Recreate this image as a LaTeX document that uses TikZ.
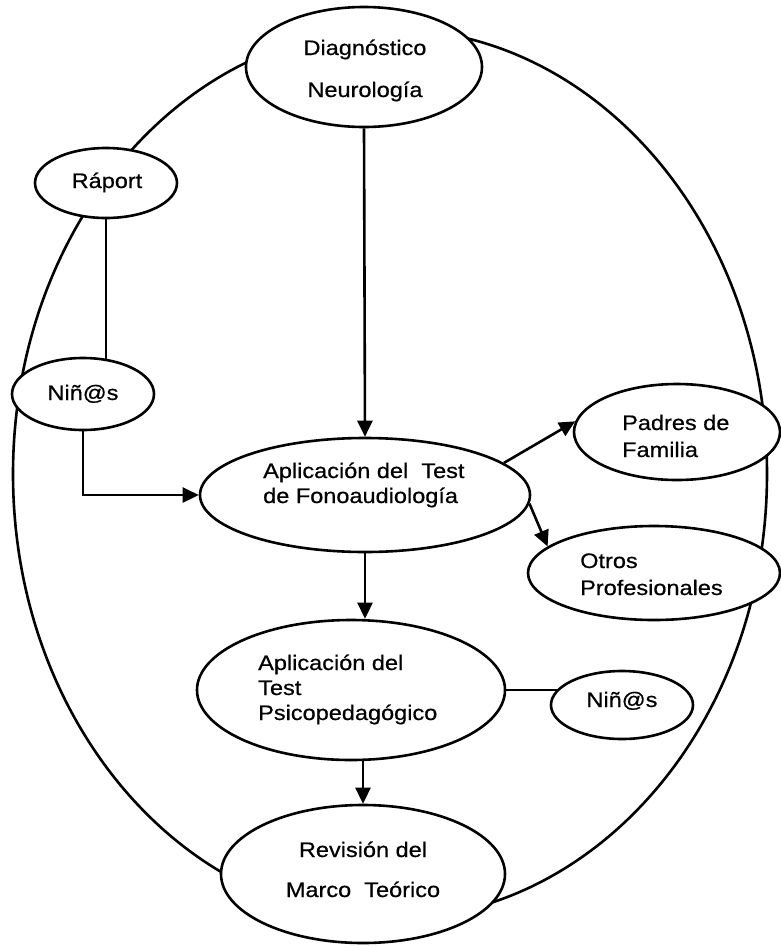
\documentclass[tikz,border=0pt]{standalone}
\usepackage{fontspec}
\setmainfont{Liberation Sans}[FakeStretch=1.12,FakeBold=0.6]
\usetikzlibrary{shapes.geometric,arrows.meta,backgrounds}
\begin{document}
\begin{tikzpicture}[x=1pt,y=-1pt,
  bub/.style={ellipse,draw,line width=2.6pt,fill=white,inner sep=0pt},
  lbl/.style={inner sep=0pt,font=\fontsize{21}{25}\selectfont},
  link/.style={line width=2.6pt},
  flow/.style={line width=2.6pt,-{Triangle[length=16pt,width=15pt]}}]
\useasboundingbox (0,0) rectangle (780,946);

% ellipses
\node[bub,minimum width=236pt,minimum height=120pt] (diag) at (364,67) {};
\node[bub,minimum width=142pt,minimum height=70pt] (raport) at (106,183) {};
\node[bub,minimum width=142pt,minimum height=72pt] (ninosA) at (83,394) {};
\node[bub,minimum width=330pt,minimum height=114pt] (fono) at (365,495) {};
\node[bub,minimum width=206pt,minimum height=96pt] (padres) at (677,432) {};
\node[bub,minimum width=252pt,minimum height=94pt] (otros) at (654,573) {};
\node[bub,minimum width=308pt,minimum height=140pt] (psico) at (351,690) {};
\node[bub,minimum width=142pt,minimum height=68pt] (ninosB) at (622,705) {};
\node[bub,minimum width=284pt,minimum height=138pt] (revision) at (363,874) {};

% texts
\node[lbl,anchor=base] (diagA) at (365,55) {Diagnóstico};
\node[lbl,anchor=base] (diagB) at (365,97) {Neurología};
\node[lbl,anchor=base] (raportT) at (107,188) {Ráport};
\node[lbl,anchor=base] (ninosAT) at (83,400) {Niñ@s};
\node[lbl,anchor=base west] (fonoA) at (263,478) {Aplicación del\ \ Test};
\node[lbl,anchor=base west] (fonoB) at (263,503) {de Fonoaudiología};
\node[lbl,anchor=base west] (padresA) at (622,430) {Padres de};
\node[lbl,anchor=base west] (padresB) at (622,457) {Familia};
\node[lbl,anchor=base west] (otrosA) at (580,568) {Otros};
\node[lbl,anchor=base west] (otrosB) at (580,595) {Profesionales};
\node[lbl,anchor=base west] (psicoA) at (258,670) {Aplicación del};
\node[lbl,anchor=base west] (psicoB) at (258,695) {Test};
\node[lbl,anchor=base west] (psicoC) at (258,720) {Psicopedagógico};
\node[lbl,anchor=base] (ninosBT) at (622,707) {Niñ@s};
\node[lbl,anchor=base] (revA) at (363,857) {Revisión del};
\node[lbl,anchor=base] (revB) at (363,897) {Marco\ \ Teórico};

% outer cycle and plain links, hidden behind the bubbles
\begin{pgfonlayer}{background}
  \draw[link] (390,474) ellipse [x radius=377pt, y radius=445pt];
  \draw[link] (raport.south) -- (raport.south |- ninosA.center);
  \draw[link] (psico.east) -- (psico.east -| ninosB.center);
\end{pgfonlayer}

% arrows
\draw[flow] (diag.south) -- (fono.north);
\draw[flow] (ninosA.south) |- (fono.west);
\draw[flow] (fono.13) -- (padres.174);
\draw[flow] (fono.-3) -- (otros.166);
\draw[flow] (fono.south) -- (fono.south |- psico.north);
\draw[flow] (revision.north |- psico.south) -- (revision.north);
\end{tikzpicture}
\end{document}
